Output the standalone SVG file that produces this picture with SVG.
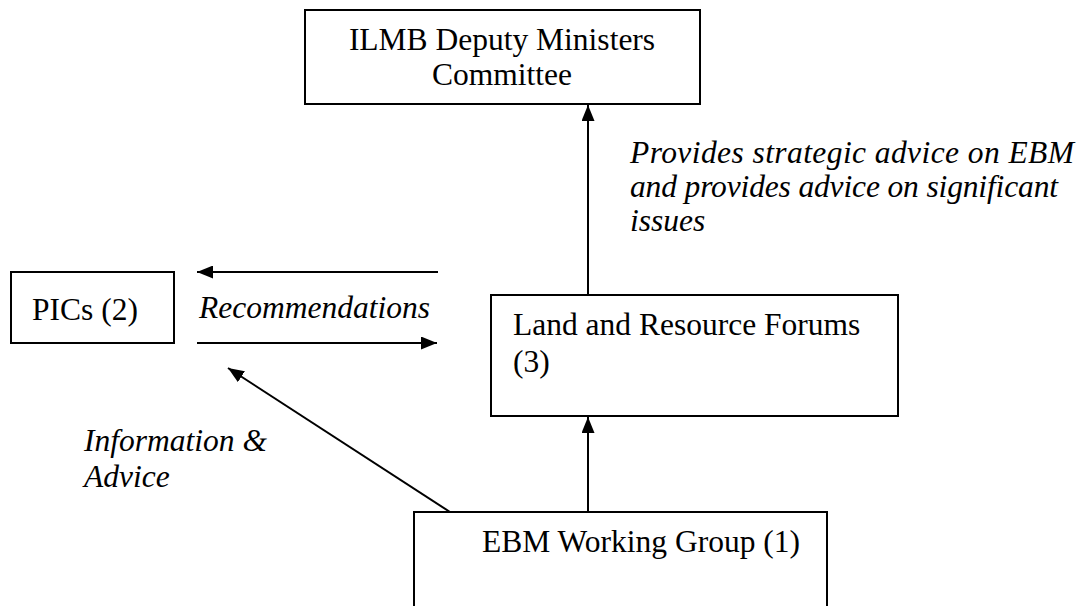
<svg xmlns="http://www.w3.org/2000/svg" width="1078" height="606" viewBox="0 0 1078 606">
  <style>
    .box { fill: #ffffff; stroke: #000000; stroke-width: 2; }
    text { font-family: 'Liberation Serif', 'Times New Roman', 'DejaVu Serif', serif; font-size: 31.5px; fill: #000000; }
    .it { font-style: italic; }
    .edge { stroke: #000000; stroke-width: 2; fill: none; marker-end: url(#arrow); }
  </style>
  <defs>
    <marker id="arrow" viewBox="0 0 16 13" refX="16" refY="6.5" markerWidth="16" markerHeight="13" markerUnits="userSpaceOnUse" orient="auto">
      <path d="M0,0 L16,6.5 L0,13 Z" fill="#000000"/>
    </marker>
  </defs>
  <rect width="1078" height="606" fill="#ffffff"/>

  <g id="connectors">
    <line class="edge" x1="588" y1="295" x2="588" y2="105"/>
    <line class="edge" x1="438" y1="272" x2="197" y2="272"/>
    <line class="edge" x1="197" y1="343" x2="437" y2="343"/>
    <line class="edge" x1="588" y1="512" x2="588" y2="417"/>
    <line class="edge" x1="450" y1="512" x2="228" y2="368"/>
  </g>

  <g id="node-dm-committee">
    <rect class="box" x="305" y="10" width="395" height="94"/>
    <text x="502" y="50" text-anchor="middle">ILMB Deputy Ministers</text>
    <text x="502" y="85" text-anchor="middle">Committee</text>
  </g>

  <g id="node-pics">
    <rect class="box" x="11" y="272" width="163" height="71"/>
    <text x="32" y="320">PICs (2)</text>
  </g>

  <g id="node-forums">
    <rect class="box" x="491" y="295" width="407" height="121"/>
    <text x="513" y="335">Land and Resource Forums</text>
    <text x="513" y="372">(3)</text>
  </g>

  <g id="node-working-group">
    <rect class="box" x="414" y="512" width="413" height="110"/>
    <text x="482" y="552">EBM Working Group (1)</text>
  </g>

  <g id="edge-labels">
    <text class="it" x="199" y="318">Recommendations</text>
    <text class="it" x="630" y="163" textLength="444" lengthAdjust="spacing">Provides strategic advice on EBM</text>
    <text class="it" x="630" y="197" textLength="428" lengthAdjust="spacing">and provides advice on significant</text>
    <text class="it" x="630" y="231">issues</text>
    <text class="it" x="84" y="451">Information &amp;</text>
    <text class="it" x="84" y="487">Advice</text>
  </g>
</svg>
